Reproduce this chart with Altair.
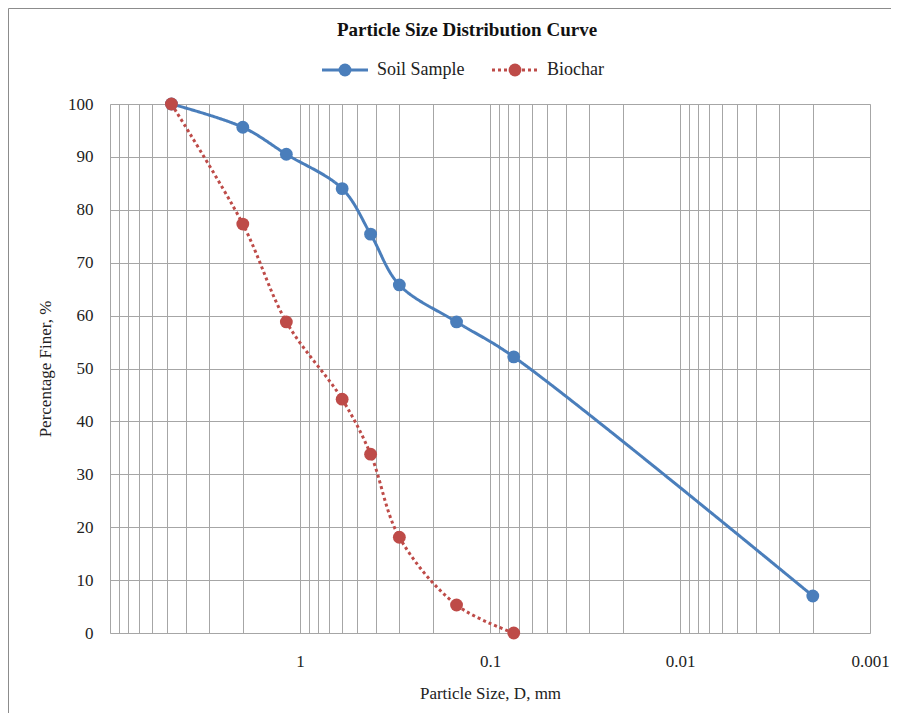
import altair as alt
import pandas as pd

# ---- data ----
series_names = ["Soil Sample", "Biochar"]
soil_size = [4.75, 2.0, 1.18, 0.6, 0.425, 0.3, 0.15, 0.075, 0.002]
soil_finer = [100, 95.6, 90.5, 84.0, 75.4, 65.8, 58.8, 52.2, 7.0]
bio_size = [4.75, 2.0, 1.18, 0.6, 0.425, 0.3, 0.15, 0.075]
bio_finer = [100, 77.3, 58.8, 44.2, 33.8, 18.1, 5.3, 0.0]

x_ticks = [m * 10.0 ** k for k in range(-3, 1) for m in range(1, 10)] + [10.0]
x_labels = ["1", "0.1", "0.01", "0.001"]
y_ticks = list(range(0, 101, 10))
title_text = "Particle Size Distribution Curve"

colors = ["#4A7EBB", "#BE4B48"]
dashes = [[1, 0], [3, 3]]
FONT = "Liberation Serif"
TXT = "#222222"

rows = []
for s, v in zip(soil_size, soil_finer):
    rows.append({"size": s, "finer": v, "series": series_names[0]})
for s, v in zip(bio_size, bio_finer):
    rows.append({"size": s, "finer": v, "series": series_names[1]})
df = pd.DataFrame(rows)

label_expr = ("indexof(" + str(x_labels).replace("'", '"')
              + ", toString(datum.value)) >= 0 ? toString(datum.value) : ''")

x_enc = alt.X(
    "size:Q",
    scale=alt.Scale(type="log", domain=[0.001, 10], reverse=True, nice=False),
    axis=alt.Axis(
        values=x_ticks, labelExpr=label_expr, title="Particle Size, D, mm",
        grid=True, gridColor="#A6A6A6", gridWidth=1, ticks=False, domain=False,
        labelFont=FONT, labelFontSize=17, labelColor=TXT, labelPadding=20,
        titleFont=FONT, titleFontSize=17, titleFontWeight="normal", titleColor=TXT,
        titleY=60, titleBaseline="middle", labelFlush=False, labelOverlap=False,
    ),
)
y_enc = alt.Y(
    "finer:Q",
    scale=alt.Scale(domain=[0, 100], nice=False),
    axis=alt.Axis(
        values=y_ticks, title="Percentage Finer, %",
        grid=True, gridColor="#A6A6A6", gridWidth=1, ticks=False, domain=False,
        labelFont=FONT, labelFontSize=17, labelColor=TXT, labelPadding=17,
        titleFont=FONT, titleFontSize=17, titleFontWeight="normal", titleColor=TXT,
        titleX=-65, titleBaseline="middle",
    ),
)

base = alt.Chart(df)
color_scale = alt.Scale(domain=series_names, range=colors)

lines = base.mark_line(interpolate="catmull-rom", strokeWidth=3).encode(
    x=x_enc,
    y=y_enc,
    color=alt.Color("series:N", scale=color_scale, legend=None),
    strokeDash=alt.StrokeDash("series:N", scale=alt.Scale(domain=series_names, range=dashes), legend=None),
)

points = base.mark_circle(size=165, opacity=1).encode(
    x=x_enc,
    y=y_enc,
    color=alt.Color("series:N", scale=color_scale, legend=None),
)

# ---- hand-built legend (layout positions relative to the plot area) ----
leg_x = [212, 382]
leg_y = -34
legend_layers = []
for i, name in enumerate(series_names):
    ldf = pd.DataFrame({"series": [name]})
    lc = alt.Chart(ldf)
    legend_layers.append(
        lc.mark_rule(strokeWidth=3, strokeDash=dashes[i], color=colors[i]).encode(
            x=alt.value(leg_x[i]), x2=alt.value(leg_x[i] + 46), y=alt.value(leg_y)
        )
    )
    legend_layers.append(
        lc.mark_circle(size=165, opacity=1, color=colors[i]).encode(
            x=alt.value(leg_x[i] + 23), y=alt.value(leg_y)
        )
    )
    legend_layers.append(
        lc.mark_text(font=FONT, fontSize=18, color=TXT, align="left", baseline="middle").encode(
            x=alt.value(leg_x[i] + 55), y=alt.value(leg_y), text="series:N"
        )
    )

title = alt.Chart(pd.DataFrame({"t": [title_text]})).mark_text(
    font=FONT, fontSize=19, fontWeight="bold", color="#111111", align="center", baseline="middle"
).encode(x=alt.value(357), y=alt.value(-74), text="t:N")

one = pd.DataFrame({"a": [0]})
frame_left = alt.Chart(one).mark_rule(color="#8C8C8C", strokeWidth=1).encode(
    x=alt.value(-101.5), y=alt.value(-95.5), y2=alt.value(700)
)
frame_top = alt.Chart(one).mark_rule(color="#8C8C8C", strokeWidth=1).encode(
    x=alt.value(-101.5), x2=alt.value(800), y=alt.value(-95.5)
)

chart = alt.layer(frame_left, frame_top, lines, points, title, *legend_layers).properties(
    width=760,
    height=529,
    padding={"left": 102, "top": 96, "right": 21, "bottom": 80},
    autosize=alt.AutoSizeParams(type="none"),
).configure_view(stroke="#868686", strokeWidth=1).configure(background="white")

chart.save("out.html", embed_options={"renderer": "svg", "actions": False})
